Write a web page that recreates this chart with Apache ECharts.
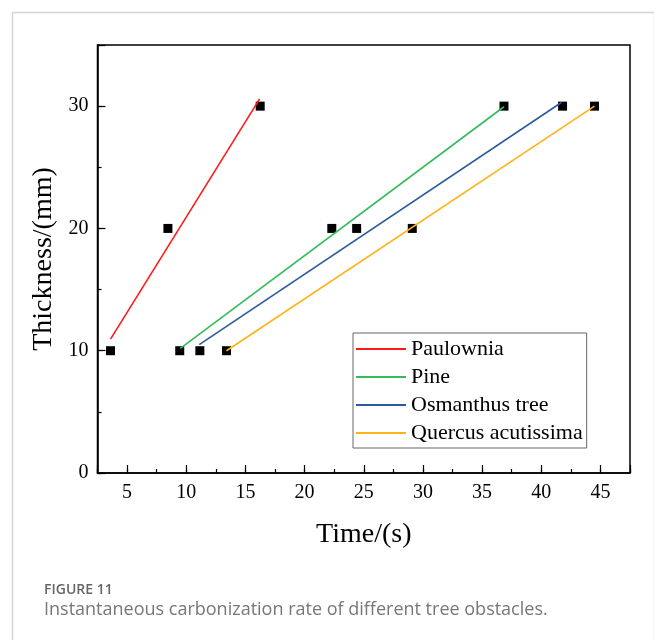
<!DOCTYPE html>
<html>
<head>
<meta charset="utf-8">
<script src="https://cdn.jsdelivr.net/npm/echarts@6/dist/echarts.min.js"></script>
<style>
  html, body { margin: 0; padding: 0; background: #fff; }
  #chart { width: 654px; height: 640px; }
</style>
</head>
<body>
<div id="chart"></div>
<script>
// measured points (time s, thickness mm)
let paulowniaPts = [[3.6, 10], [8.45, 20], [16.25, 30]]
let pinePts = [[9.45, 10], [22.3, 20], [36.85, 30]]
let osmanthusPts = [[11.15, 10], [24.4, 20], [41.8, 30]]
let quercusPts = [[13.4, 10], [29.1, 20], [44.5, 30]]

// fitted line end points as drawn
let paulowniaFit = [[3.6, 10.95], [16.2, 30.6]]
let pineFit = [[9.5, 10.2], [36.85, 29.95]]
let osmanthusFit = [[11.1, 10.5], [41.7, 30.3]]
let quercusFit = [[13.4, 10.0], [44.5, 30.0]]

let names = ['Paulownia', 'Pine', 'Osmanthus tree', 'Quercus acutissima']
let colors = ['#ff1a1a', '#33bb5c', '#2c5b9c', '#ffb416']

let serif = 'Liberation Serif'
let chart = echarts.init(document.getElementById('chart'));

function pointSeries(data) {
    return {
        type: 'scatter',
        data: data,
        symbol: 'rect',
        symbolSize: 9,
        itemStyle: {color: '#000', opacity: 1},
        z: 2,
        silent: true
    }
}

function fitSeries(name, data, color) {
    return {
        name: name,
        type: 'line',
        data: data,
        symbol: 'none',
        lineStyle: {color: color, width: 1.6},
        itemStyle: {color: color},
        z: 3
    }
}

let tickLine = {color: '#000', width: 1.2}
// second axes only carry ticks, their line stays invisible
let hiddenLine = {show: true, lineStyle: {color: 'rgba(0,0,0,0)', width: 0}}

let option = {
    animation: false,
    backgroundColor: '#fff',
    grid: {
        left: 97.5, right: 24, top: 45, bottom: 167,
        show: true, borderColor: '#000', borderWidth: 1.5
    },
    legend: {
        data: names.map(n => ({name: n, icon: 'rect'})),
        orient: 'vertical',
        left: 353, top: 333,
        borderColor: '#666', borderWidth: 1,
        padding: [5, 4, 4, 3],
        itemWidth: 50, itemHeight: 2, itemGap: 6,
        textStyle: {fontFamily: serif, fontSize: 22, color: '#000', lineHeight: 21}
    },
    xAxis: [
        {
            type: 'value', min: 2.5, max: 47.5, interval: 2.5,
            axisLine: {show: true, lineStyle: {color: '#000', width: 1.5}},
            axisTick: {inside: true, length: 4, lineStyle: tickLine},
            axisLabel: {
                formatter: v => (v % 5 === 0 ? String(v) : ''),
                fontFamily: serif, fontSize: 20, color: '#000', margin: 10
            },
            splitLine: {show: false},
            name: 'Time/(s)', nameLocation: 'middle', nameGap: 48,
            nameTextStyle: {fontFamily: serif, fontSize: 28, color: '#000'}
        },
        {
            type: 'value', position: 'bottom', offset: 0,
            min: 2.5, max: 47.5, splitNumber: 9,
            axisLine: hiddenLine,
            axisTick: {show: true, inside: true, length: 8, lineStyle: tickLine},
            axisLabel: {show: false},
            splitLine: {show: false}
        }
    ],
    yAxis: [
        {
            type: 'value', min: 0, max: 35, interval: 10,
            axisLine: {show: true, lineStyle: {color: '#000', width: 1.5}},
            axisTick: {show: true, inside: true, length: 8, lineStyle: tickLine},
            axisLabel: {
                formatter: v => (v % 10 === 0 ? String(v) : ''),
                fontFamily: serif, fontSize: 20, color: '#000', margin: 9
            },
            splitLine: {show: false},
            name: 'Thickness/(mm)', nameLocation: 'middle', nameGap: 23, nameRotate: 90,
            nameTextStyle: {fontFamily: serif, fontSize: 28, color: '#000'}
        },
        {
            type: 'value', position: 'left', offset: 0,
            min: 0, max: 35, interval: 5,
            axisLine: hiddenLine,
            axisTick: {show: true, inside: true, length: 4, lineStyle: tickLine},
            axisLabel: {show: false},
            splitLine: {show: false}
        }
    ],
    graphic: [
        {
            type: 'rect', left: 10, top: 10, silent: true,
            shape: {width: 642, height: 700},
            style: {fill: null, stroke: '#d4d4d4', lineWidth: 1.5}
        },
        {
            type: 'text', left: 44, top: 583,
            style: {text: 'FIGURE 11', fontFamily: 'Open Sans', fontSize: 14, fontWeight: 600, fill: '#666'}
        },
        {
            type: 'text', left: 44, top: 601,
            style: {
                text: 'Instantaneous carbonization rate of different tree obstacles.',
                fontFamily: 'Open Sans', fontSize: 18, fill: '#777'
            }
        }
    ],
    series: [
        pointSeries(paulowniaPts),
        pointSeries(pinePts),
        pointSeries(osmanthusPts),
        pointSeries(quercusPts),
        fitSeries(names[0], paulowniaFit, colors[0]),
        fitSeries(names[1], pineFit, colors[1]),
        fitSeries(names[2], osmanthusFit, colors[2]),
        fitSeries(names[3], quercusFit, colors[3])
    ]
};
chart.setOption(option);
</script>
</body>
</html>
